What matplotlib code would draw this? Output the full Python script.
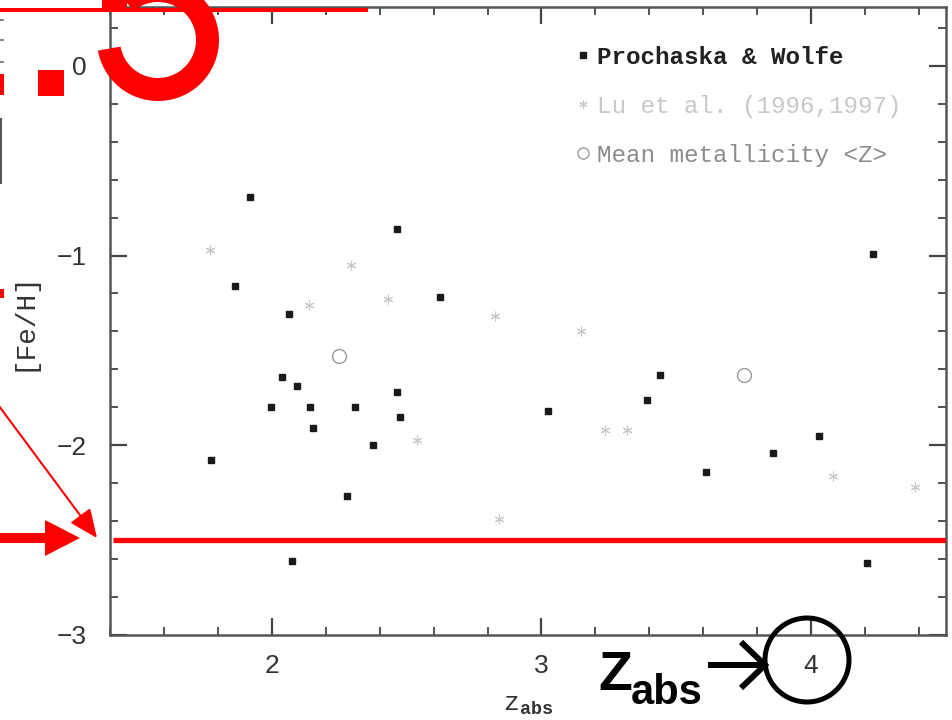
import matplotlib
matplotlib.use('Agg')
import matplotlib.pyplot as plt
from matplotlib.patches import Rectangle, Wedge, Polygon, Circle
from matplotlib.ticker import MultipleLocator

# Prochaska & Wolfe DLA abundances
pw_z = [1.918, 2.464, 1.862, 2.625, 2.063, 2.038, 2.094, 2.466, 1.996, 2.141,
        2.309, 2.476, 2.154, 2.374, 1.773, 2.278, 2.076,
        4.229, 3.440, 3.025, 3.393, 4.029, 3.860, 3.610, 4.207]
pw_feh = [-0.69, -0.86, -1.16, -1.22, -1.31, -1.64, -1.69, -1.72, -1.80, -1.80,
          -1.80, -1.85, -1.91, -2.00, -2.08, -2.27, -2.61,
          -0.99, -1.63, -1.82, -1.76, -1.95, -2.04, -2.14, -2.62]

# Lu et al. (1996,1997)
lu_z = [1.770, 2.293, 2.138, 2.430, 2.540, 2.829, 3.145, 3.234, 3.318, 2.844, 4.081, 4.384]
lu_feh = [-0.97, -1.05, -1.26, -1.23, -1.97, -1.32, -1.40, -1.92, -1.92, -2.39, -2.16, -2.22]

# mean metallicity <Z> in two redshift bins
mean_z = [2.249, 3.752]
mean_feh = [-1.53, -1.63]

xticks = [2, 3, 4]
yticks = [0, -1, -2, -3]
threshold_feh = -2.5

W, H = 952, 720
plt.rcParams['mathtext.fontset'] = 'custom'
plt.rcParams['mathtext.rm'] = 'Liberation Mono'
plt.rcParams['mathtext.bf'] = 'Liberation Mono:bold'

fig = plt.figure(figsize=(W / 100, H / 100), dpi=100)
ax = fig.add_axes([110 / W, 1 - 635 / H, 836 / W, 628 / H])

ax.plot(pw_z, pw_feh, 's', ms=4.8, color='#1a1a1a', label='Prochaska & Wolfe', zorder=3)
ax.plot(lu_z, lu_feh, marker=(6, 2, 0), ls='none', ms=7, mew=0.8,
        color='#c8c8c8', label='Lu et al. (1996,1997)', zorder=2)
ax.plot(mean_z, mean_feh, 'o', ms=10, mfc='none', mec='#9a9a9a', mew=1.0,
        label='Mean metallicity <Z>', zorder=2)

# threshold line at [Fe/H] = -2.5
ax.plot([1.41, 4.5], [threshold_feh, threshold_feh], color='red', lw=3.8,
        solid_capstyle='butt', zorder=4)

ax.set_xlim(1.4, 4.5)
ax.set_ylim(-3, 0.31)
ax.set_xticks(xticks)
ax.set_yticks(yticks)
ax.set_yticklabels(['0', '\u22121', '\u22122', '\u22123'])
ax.xaxis.set_minor_locator(MultipleLocator(0.2))
ax.yaxis.set_minor_locator(MultipleLocator(0.2))
ax.tick_params(which='both', direction='in', top=True, right=True, color='#444')
ax.tick_params(which='major', length=12, width=1.6)
ax.tick_params(which='minor', length=6, width=1.3)
ax.tick_params(axis='x', which='major', pad=14)
ax.tick_params(axis='y', which='major', pad=17)
for lab in ax.get_xticklabels() + ax.get_yticklabels():
    lab.set_fontfamily('Liberation Sans')
    lab.set_fontsize(19)
    lab.set_color('#333')
for sp in ax.spines.values():
    sp.set_color('#555')
    sp.set_linewidth(1.8)

ax.set_xlabel(r'$\mathrm{z}_{\mathbf{abs}}$', fontsize=19, color='#333', labelpad=9)
ax.set_ylabel('[Fe/H]', family='Liberation Mono', fontsize=20, color='#333', labelpad=14)

leg = ax.legend(loc='upper left', bbox_to_anchor=(0.545, 0.954), frameon=False,
                prop={'family': 'Liberation Mono', 'size': 17.5}, handlelength=0.6,
                handletextpad=0.3, labelspacing=1.07, borderaxespad=0, markerscale=0.8)
txt_colors = ['#222', '#c8c8c8', '#8c8c8c']
for t, c in zip(leg.get_texts(), txt_colors):
    t.set_color(c)
leg.get_texts()[0].set_fontweight('bold')

# overlay in pixel units for the hand-drawn annotations
ov = fig.add_axes([0, 0, 1, 1], zorder=10)
ov.set_xlim(0, W)
ov.set_ylim(0, H)
ov.axis('off')
ov.patch.set_alpha(0)


def py(y):
    return H - y


# leftover edge of a neighbouring axis on the far left
ov.add_patch(Rectangle((0, py(184)), 2, 66, color='#555', lw=0))
for ty in (20, 40, 62):
    ov.plot([0, 3], [py(ty), py(ty)], color='#666', lw=1.2)

red = '#ff0000'
# large red "2.5" remnants at the top left
ov.add_patch(Rectangle((38, py(96)), 26, 26, color=red, lw=0))
ov.add_patch(Wedge((158, py(40)), 61, 190, 490, width=23, color=red, lw=0))
ov.add_patch(Rectangle((102, py(11)), 25, 40, color=red, lw=0))
ov.add_patch(Rectangle((0, py(95)), 4, 21, color=red, lw=0))
ov.add_patch(Rectangle((0, py(298)), 4, 9, color=red, lw=0))
ov.plot([0, 368], [py(10), py(10)], color=red, lw=2.9, solid_capstyle='butt')

# red arrows pointing at the threshold
ov.add_patch(Polygon([(0, py(533)), (45, py(533)), (45, py(520)), (80, py(538)),
                      (45, py(556)), (45, py(543)), (0, py(543))], color=red, lw=0))
ov.annotate('', xy=(97, py(538)), xytext=(-4, py(402)),
            arrowprops=dict(arrowstyle='-|>,head_length=0.8,head_width=0.35',
                            color=red, lw=1.5, mutation_scale=22, shrinkA=0, shrinkB=0))

# z_abs = 4 callout
ov.text(598, py(690), 'Z', family='Liberation Sans', fontweight='bold', fontsize=40,
        color='black', ha='left', va='baseline')
ov.text(631, py(704), 'abs', family='Liberation Sans', fontweight='bold', fontsize=30,
        color='black', ha='left', va='baseline')
ov.plot([708, 764], [py(665), py(665)], color='black', lw=4.3, solid_capstyle='butt')
ov.plot([741, 765, 741], [py(642), py(665), py(688)], color='black', lw=4.3,
        solid_joinstyle='miter', solid_capstyle='butt')
ov.add_patch(Circle((807, py(660)), 42, fill=False, ec='black', lw=3.6))

fig.savefig('out.png', dpi=100)
